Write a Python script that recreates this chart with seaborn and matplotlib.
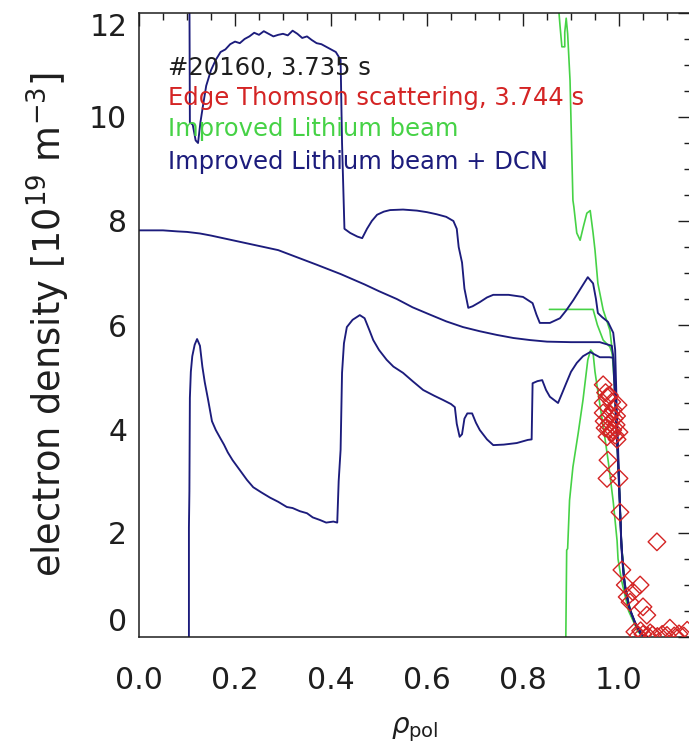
import matplotlib
matplotlib.use("Agg")
import matplotlib.pyplot as plt
import seaborn as sns
import numpy as np
from matplotlib.ticker import MultipleLocator, FixedLocator

# ---------------- data ----------------
rho_mean = [0.0, 0.05, 0.08, 0.10, 0.127, 0.15, 0.175, 0.20, 0.25, 0.29, 0.33, 0.37, 0.42, 0.47,
            0.50, 0.537, 0.57, 0.606, 0.64, 0.675, 0.71, 0.745, 0.78, 0.815, 0.85, 0.90, 0.96,
            0.985, 0.988, 0.992, 0.996, 1.0, 1.004, 1.008, 1.013, 1.023, 1.033, 1.044, 1.055]
ne_mean = [7.82, 7.82, 7.80, 7.79, 7.76, 7.72, 7.67, 7.62, 7.52, 7.44, 7.30, 7.16, 6.98, 6.78,
           6.65, 6.50, 6.34, 6.20, 6.07, 5.96, 5.88, 5.81, 5.75, 5.71, 5.68, 5.67, 5.67,
           5.60, 5.40, 4.80, 3.90, 3.00, 2.00, 1.35, 0.90, 0.52, 0.28, 0.08, 0.0]

rho_upper = [0.105, 0.106, 0.112, 0.118, 0.123, 0.128, 0.133, 0.14, 0.15, 0.16, 0.17, 0.18, 0.19,
             0.20, 0.21, 0.22, 0.23, 0.24, 0.25, 0.26, 0.27, 0.28, 0.29, 0.30, 0.31, 0.32, 0.33,
             0.34, 0.35, 0.36, 0.37, 0.38, 0.39, 0.40, 0.41, 0.42, 0.423, 0.428, 0.44, 0.455,
             0.465, 0.475, 0.485, 0.496, 0.51, 0.523, 0.55, 0.579, 0.60, 0.62, 0.64, 0.655,
             0.662, 0.666, 0.673, 0.678, 0.686, 0.695, 0.71, 0.725, 0.738, 0.77, 0.80, 0.82,
             0.828, 0.835, 0.856, 0.877, 0.89, 0.905, 0.92, 0.935, 0.946, 0.952, 0.956, 0.965,
             0.977, 0.988, 0.992, 0.995, 1.0, 1.005, 1.012, 1.022, 1.035, 1.05, 1.06]
ne_upper = [12.5, 9.9, 9.85, 9.55, 9.5, 9.9, 10.2, 10.6, 10.9, 11.1, 11.25, 11.3, 11.4,
            11.45, 11.42, 11.5, 11.55, 11.62, 11.58, 11.65, 11.6, 11.55, 11.58, 11.6, 11.57, 11.66, 11.6,
            11.52, 11.55, 11.48, 11.42, 11.4, 11.35, 11.3, 11.25, 11.1, 9.5, 7.85, 7.77, 7.7,
            7.67, 7.85, 8.0, 8.12, 8.18, 8.21, 8.22, 8.2, 8.17, 8.13, 8.08, 8.0,
            7.85, 7.5, 7.2, 6.7, 6.33, 6.36, 6.44, 6.53, 6.58, 6.58, 6.54, 6.42,
            6.2, 6.04, 6.04, 6.13, 6.28, 6.48, 6.7, 6.92, 6.8, 6.5, 6.23, 6.15,
            6.06, 5.85, 5.52, 4.5, 3.1, 1.7, 1.0, 0.55, 0.25, 0.03, 0.0]

rho_lower = [0.104, 0.104, 0.105, 0.106, 0.108, 0.111, 0.116, 0.121, 0.127, 0.132, 0.137, 0.144,
             0.152, 0.16, 0.169, 0.177, 0.185, 0.195, 0.21, 0.225, 0.238, 0.255, 0.273, 0.29,
             0.308, 0.32, 0.335, 0.35, 0.362, 0.377, 0.39, 0.405, 0.413, 0.416, 0.42, 0.423,
             0.427, 0.433, 0.445, 0.46, 0.47, 0.48, 0.488, 0.50, 0.516, 0.53, 0.55, 0.57,
             0.592, 0.615, 0.633, 0.65, 0.658, 0.662, 0.668, 0.673, 0.678, 0.684, 0.694, 0.702,
             0.71, 0.725, 0.738, 0.76, 0.787, 0.81, 0.818, 0.82, 0.83, 0.84, 0.848, 0.856,
             0.873, 0.882, 0.89, 0.90, 0.912, 0.925, 0.94, 0.96, 0.98, 0.988, 0.99, 0.995,
             1.0, 1.005, 1.01, 1.02, 1.032, 1.045, 1.055]
ne_lower = [-0.3, 2.1, 2.8, 4.6, 5.1, 5.4, 5.62, 5.73, 5.6, 5.2, 4.9, 4.56,
            4.15, 3.98, 3.83, 3.7, 3.55, 3.4, 3.21, 3.02, 2.88, 2.78, 2.68, 2.6,
            2.5, 2.48, 2.42, 2.38, 2.3, 2.25, 2.2, 2.22, 2.2, 3.0, 3.6, 5.08,
            5.65, 5.96, 6.1, 6.19, 6.13, 5.9, 5.71, 5.52, 5.33, 5.2, 5.08, 4.92,
            4.75, 4.64, 4.56, 4.48, 4.42, 4.1, 3.85, 3.9, 4.2, 4.3, 4.3, 4.12,
            3.98, 3.8, 3.69, 3.7, 3.73, 3.79, 3.8, 4.88, 4.92, 4.94, 4.75, 4.62,
            4.5, 4.7, 4.88, 5.1, 5.27, 5.4, 5.48, 5.38, 5.38, 5.37, 4.9, 3.9,
            2.9, 1.8, 1.15, 0.6, 0.3, 0.06, 0.0]

rho_li_upper = [0.873, 0.875, 0.877, 0.881, 0.887, 0.887, 0.89, 0.893, 0.898, 0.902, 0.904, 0.906,
                0.912, 0.919, 0.926, 0.933, 0.94, 0.946, 0.95, 0.956, 0.967, 0.981, 0.985, 0.99,
                0.995, 1.0, 1.005, 1.012, 1.025, 1.04, 1.055]
ne_li_upper = [12.3, 12.0, 11.77, 11.35, 11.35, 11.63, 11.9, 11.6, 10.7, 9.17, 8.4, 8.27,
               7.77, 7.63, 7.9, 8.15, 8.2, 7.77, 7.44, 6.8, 6.29, 5.9, 5.58, 4.9,
               3.9, 3.0, 1.8, 1.0, 0.45, 0.1, 0.0]

rho_li_mean = [0.855, 0.946, 0.955, 0.967, 0.981, 0.988, 0.992, 0.996, 1.0, 1.005, 1.012, 1.025, 1.04, 1.055]
ne_li_mean = [6.3, 6.3, 6.0, 5.71, 5.58, 5.4, 4.8, 3.9, 3.0, 1.8, 1.0, 0.45, 0.1, 0.0]

rho_li_lower = [0.889, 0.891, 0.893, 0.897, 0.904, 0.915, 0.925, 0.935, 0.941, 0.946, 0.95, 0.958,
                0.968, 0.978, 0.988, 0.996, 0.998, 1.005, 1.02, 1.04, 1.055]
ne_li_lower = [-0.2, 1.67, 1.7, 2.63, 3.27, 3.92, 4.56, 5.33, 5.52, 5.46, 5.1, 4.6,
               4.0, 3.35, 2.6, 1.85, 1.5, 1.1, 0.5, 0.1, 0.0]

rho_ts = [0.967, 0.975, 0.967, 0.985, 0.998, 0.967, 0.977, 0.988, 0.981, 0.994, 0.971, 1.0,
          0.985, 0.975, 0.992, 0.980, 0.990, 0.972, 0.983, 0.978, 0.995, 0.969, 0.987, 0.996,
          0.977, 0.975, 1.0, 1.002, 1.079, 1.006, 1.044, 1.029, 1.017, 1.023, 1.05, 1.058,
          1.013, 1.033, 1.106, 1.142, 1.04, 1.05, 1.06, 1.07, 1.08, 1.09, 1.10, 1.115,
          1.125, 1.135, 1.045, 1.065]
ne_ts = [4.85, 4.62, 4.50, 4.52, 4.46, 4.31, 4.23, 4.37, 4.12, 4.08, 4.02, 3.94,
         3.92, 3.85, 3.88, 4.65, 4.20, 4.70, 4.28, 4.00, 4.25, 4.15, 3.98, 3.80,
         3.40, 3.05, 3.05, 2.40, 1.83, 1.29, 1.00, 0.87, 0.77, 0.67, 0.58, 0.42,
         1.00, 0.10, 0.17, 0.13, 0.03, 0.05, 0.02, 0.04, 0.01, 0.05, 0.03, 0.02,
         0.06, 0.02, 0.12, 0.08]

x_ticks = [0.0, 0.2, 0.4, 0.6, 0.8, 1.0]
x_ticklabels = ["0.0", "0.2", "0.4", "0.6", "0.8", "1.0"]
y_ticks = [0, 2, 4, 6, 8, 10, 12]
y_ticklabels = ["0", "2", "4", "6", "8", "10", "12"]

legend_lines = ["#20160, 3.735 s", "Edge Thomson scattering, 3.744 s",
                "Improved Lithium beam", "Improved Lithium beam + DCN"]

# ---------------- style ----------------
sns.set_theme(style="white")
plt.rcParams["font.family"] = ["DejaVu Sans"]
plt.rcParams["mathtext.fontset"] = "dejavusans"

NAVY = "#1c1c7c"
GREEN = "#46d246"
RED = "#d42424"
INK = "#1e1e1e"

fig = plt.figure(figsize=(6.89, 7.45), dpi=100)
W, H = 689.0, 745.0
L, R, T, B = 139.0, 691.0, 13.0, 637.0
ax = fig.add_axes([L / W, 1 - B / H, (R - L) / W, (B - T) / H])

lw_n = 1.35
lw_g = 1.2
sns.lineplot(x=rho_li_upper, y=ne_li_upper, sort=False, estimator=None, color=GREEN, lw=lw_g, ax=ax)
sns.lineplot(x=rho_li_mean, y=ne_li_mean, sort=False, estimator=None, color=GREEN, lw=lw_g, ax=ax)
sns.lineplot(x=rho_li_lower, y=ne_li_lower, sort=False, estimator=None, color=GREEN, lw=lw_g, ax=ax)
sns.lineplot(x=rho_upper, y=ne_upper, sort=False, estimator=None, color=NAVY, lw=lw_n, ax=ax)
sns.lineplot(x=rho_lower, y=ne_lower, sort=False, estimator=None, color=NAVY, lw=lw_n, ax=ax)
sns.lineplot(x=rho_mean, y=ne_mean, sort=False, estimator=None, color=NAVY, lw=lw_n, ax=ax)
sns.scatterplot(x=rho_ts, y=ne_ts, marker="D", s=80, facecolors="none", edgecolor=RED,
                linewidth=1.0, ax=ax, zorder=5)

ax.set_xlim(0.0, 1.0 + (R - 619.0) / 480.0)
ax.set_ylim(0, 12)

ax.xaxis.set_major_locator(FixedLocator(x_ticks))
ax.set_xticklabels(x_ticklabels)
ax.yaxis.set_major_locator(FixedLocator(y_ticks))
ax.set_yticklabels(y_ticklabels)
ax.xaxis.set_minor_locator(MultipleLocator(0.05))
ax.yaxis.set_minor_locator(MultipleLocator(0.5))

ax.tick_params(which="both", direction="in", top=True, right=True, colors=INK, width=1.0)
ax.tick_params(which="major", length=9.5)
ax.tick_params(which="minor", length=4.7)
ax.tick_params(axis="x", which="major", pad=21, labelsize=21.5, labelcolor=INK)
ax.tick_params(axis="y", which="major", pad=8.5, labelsize=21.5, labelcolor=INK)
for sp in ax.spines.values():
    sp.set_color(INK)
    sp.set_linewidth(1.1)

ylabs = ax.get_yticklabels()
ylabs[0].set_va("bottom")
ylabs[-1].set_va("top")

ax.set_ylabel("electron density [10$^{19}$ m$^{-3}$]", fontsize=26.5, color=INK, va="baseline")
ax.yaxis.set_label_coords((62 - L) / (R - L), 0.5)
ax.set_xlabel(r"$\rho_{\rm pol}$", fontsize=20, color=INK)
ax.xaxis.set_label_coords(0.5, (B - 715) / (B - T))

text_colors = [INK, RED, GREEN, NAVY]
text_y = [68, 98, 129, 162]
for s, c, yy in zip(legend_lines, text_colors, text_y):
    ax.text((168 - L) / (R - L), (B - yy) / (B - T), s, color=c, fontsize=17.5,
            transform=ax.transAxes, ha="left", va="center")

fig.savefig("out.png", dpi=100)
